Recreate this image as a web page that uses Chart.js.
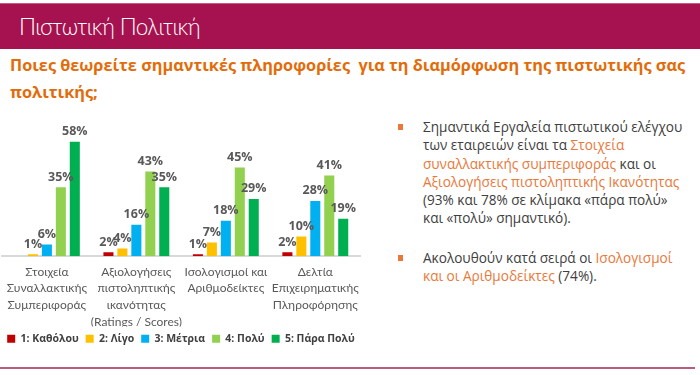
<!DOCTYPE html>
<html>
<head>
<meta charset="utf-8">
<script src="https://cdn.jsdelivr.net/npm/chart.js@4"></script>
<style>
  body { margin: 0; width: 700px; height: 375px; background: #fff; position: relative; overflow: hidden; font-family: "Open Sans", "Noto Sans", sans-serif; }
  #header { position: absolute; left: 0; top: 3px; width: 700px; height: 45px; background: #A5124F; border-top: 1px solid #C9577F; }
  #header span { position: absolute; left: 19px; top: 9px; color: #fff; font-size: 22.5px; letter-spacing: -0.6px; font-family: Lato, "Open Sans", sans-serif; font-weight: 300; }
  #question { position: absolute; left: 10px; top: 52px; color: #E36C0A; font-weight: bold; font-size: 16.3px; line-height: 27px; }
  #chartBox { position: absolute; left: 0; top: 108px; width: 366px; height: 246px; }
  #notes { position: absolute; left: 396px; top: 118px; width: 300px; color: #404040; font-size: 13.6px; line-height: 18.3px; }
  #notes .b { position: relative; padding-left: 27px; }
  #notes .b::before { content: ""; position: absolute; left: 2px; top: 6px; width: 5px; height: 6px; background: #E8793A; }
  #notes .o { color: #E8793A; }
  #footer { position: absolute; left: 0; top: 367px; width: 695px; height: 2px; background: #BE5A7C; }
</style>
</head>
<body>
<div id="header"><span>Πιστωτική Πολιτική</span></div>
<div id="question">Ποιες θεωρείτε σημαντικές πληροφορίες&nbsp; για τη διαμόρφωση της πιστωτικής σας<br>πολιτικής;</div>
<div id="chartBox"><canvas id="c"></canvas></div>
<div id="notes">
  <div class="b">Σημαντικά Εργαλεία πιστωτικού ελέγχου<br>των εταιρειών είναι τα <span class="o">Στοιχεία</span><br><span class="o">συναλλακτικής συμπεριφοράς</span> και οι<br><span class="o">Αξιολογήσεις πιστοληπτικής Ικανότητας</span><br>(93% και 78% σε κλίμακα «πάρα πολύ»<br>και «πολύ» σημαντικό).</div>
  <div class="b" style="margin-top:21px">Ακολουθούν κατά σειρά οι <span class="o">Ισολογισμοί</span><br><span class="o">και οι Αριθμοδείκτες</span> (74%).</div>
</div>
<div id="footer"></div>
<script>
// categories (multi-line axis labels)
var categories = [
    ['Στοιχεία', 'Συναλλακτικής', 'Συμπεριφοράς'],
    ['Αξιολογήσεις', 'πιστοληπτικής', 'ικανότητας', '(Ratings / Scores)'],
    ['Ισολογισμοί και', 'Αριθμοδείκτες'],
    ['Δελτία', 'Επιχειρηματικής', 'Πληροφόρησης']
];
var seriesNames = ['1: Καθόλου', '2: Λίγο', '3: Μέτρια', '4: Πολύ', '5: Πάρα Πολύ'];
var seriesColors = ['#C00000', '#FFC000', '#00B0F0', '#92D050', '#00B050'];
// percentages per series, one value per category
var katholou = [0, 2, 1, 2];
var ligo = [1, 4, 7, 10];
var metria = [6, 16, 18, 28];
var poly = [35, 43, 45, 41];
var paraPoly = [58, 35, 29, 19];

var values = [katholou, ligo, metria, poly, paraPoly];

var valueLabels = {
    id: 'valueLabels',
    afterDatasetsDraw: function (chart) {
        var ctx = chart.ctx;
        ctx.save();
        ctx.font = 'bold 12.5px "Open Sans", sans-serif';
        ctx.fillStyle = '#595959';
        ctx.textAlign = 'center';
        ctx.textBaseline = 'bottom';
        chart.data.datasets.forEach(function (ds, i) {
            chart.getDatasetMeta(i).data.forEach(function (bar, j) {
                if (ds.data[j] > 0) {
                    ctx.fillText(ds.data[j] + '%', bar.x, bar.y - 4);
                }
            });
        });
        ctx.restore();
    }
};

var ctx = document.getElementById('c').getContext('2d');
var chart = new Chart(ctx, {
    type: 'bar',
    data: {
        labels: categories,
        datasets: seriesNames.map(function (name, i) {
            return {
                label: name,
                data: values[i],
                backgroundColor: seriesColors[i],
                barPercentage: 0.72,
                categoryPercentage: 0.78
            };
        })
    },
    options: {
        responsive: true,
        maintainAspectRatio: false,
        animation: false,
        layout: { padding: { top: 22, left: 0, right: 4 } },
        scales: {
            x: {
                grid: { display: false, drawTicks: false },
                border: { color: '#D9D9D9', width: 2 },
                ticks: {
                    color: '#595959',
                    font: { family: 'Lato, "Open Sans", sans-serif', size: 12, lineHeight: 1.4 },
                    maxRotation: 0,
                    autoSkip: false,
                    padding: 7
                },
                // let the legend sit closer under the last label line
                afterFit: function (scale) {
                    scale.height -= 11;
                }
            },
            y: {
                display: false,
                min: 0,
                max: 64
            }
        },
        plugins: {
            legend: {
                position: 'bottom',
                labels: {
                    boxWidth: 8,
                    boxHeight: 8,
                    padding: 7,
                    color: '#404040',
                    font: { family: '"Open Sans", sans-serif', size: 10.5, weight: 'bold' }
                }
            },
            tooltip: { enabled: false }
        }
    },
    plugins: [valueLabels]
});
</script>
</body>
</html>
